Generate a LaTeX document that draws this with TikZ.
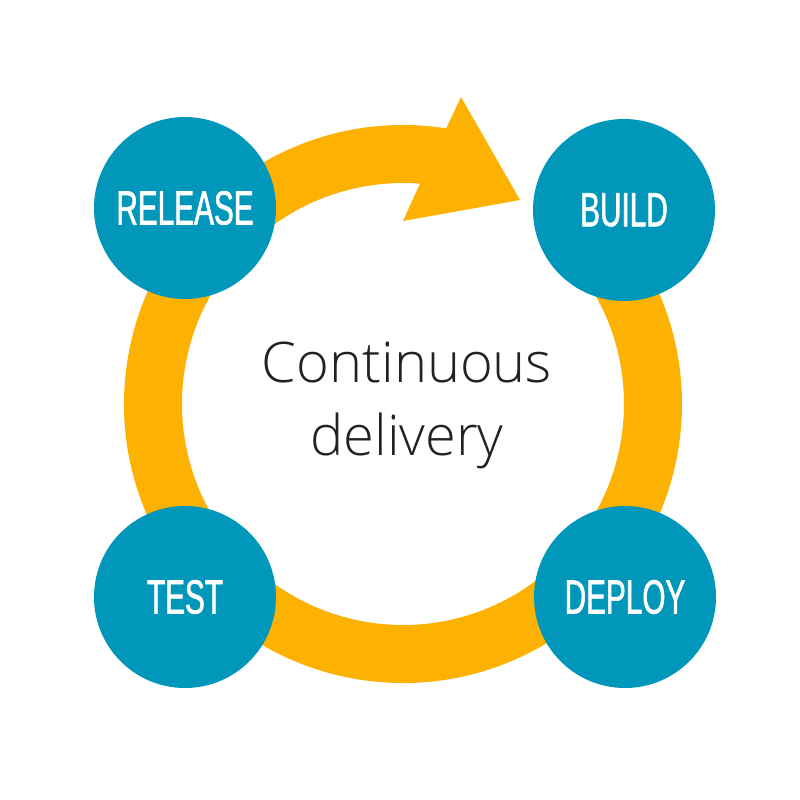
\documentclass[tikz,border=0pt]{standalone}
\usepackage{fontspec}
\usepackage{xcolor}
\usepackage{tikz}
\setmainfont{Open Sans Light}
\newfontfamily\stagefont[FakeStretch=0.62,FakeBold=1.2]{Liberation Sans}

\definecolor{stageblue}{HTML}{0097BA}
\definecolor{ringorange}{HTML}{FDB100}
\definecolor{inkgray}{HTML}{222222}

\tikzset{
  stage/.style={circle, fill=stageblue, minimum size=136.5pt, inner sep=0pt, text=white,
    font=\stagefont\fontsize{36}{40}\selectfont},
  caption/.style={align=center, text=inkgray, font=\fontsize{42}{54.75}\selectfont}
}

\begin{document}
\begin{tikzpicture}[x=0.75pt,y=0.75pt,yscale=-1,xscale=1]
\useasboundingbox (0,0) rectangle (800,800);
\coordinate (ring) at (403,404);
%Curve Lines (ring with arrow head)
\fill [ringorange] (ring) ++(-81.1:279) arc [start angle=-81.1, end angle=-400, radius=279]
  -- ++(140:58) arc [start angle=-400, end angle=-85.6, radius=221]
  -- (403,221) -- (520,200) -- (461,97) -- cycle ;
% Text Node
\node [stage] (release) at (185,208) {RELEASE};
% Text Node
\node [stage] (build) at (624,210) {BUILD};
% Text Node
\node [stage] (test) at (185,597) {TEST};
% Text Node
\node [stage] (deploy) at (625,597) {DEPLOY};
% Text Node
\node [caption] (title) at (407,405) {Continuous\\delivery};
\end{tikzpicture}
\end{document}
